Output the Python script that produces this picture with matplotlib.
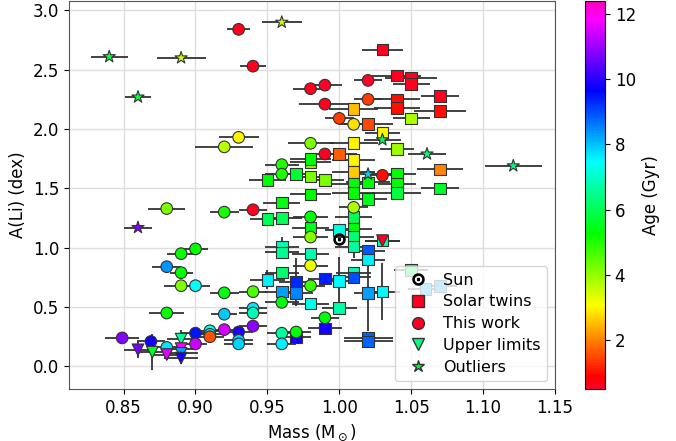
import numpy as np
import matplotlib
matplotlib.use('Agg')
import matplotlib.pyplot as plt
from matplotlib.lines import Line2D

# solar twins (squares)
tw_mass = [1.030, 1.040, 1.050, 1.050, 1.070, 1.040, 1.040, 1.070, 1.010, 1.050,
           1.020, 1.030, 1.010, 1.040, 1.000, 1.010, 0.980, 0.980, 1.070, 1.010,
           0.970, 0.980, 0.990, 1.020, 1.040, 1.040, 1.040, 1.010, 1.010, 1.070,
           0.980, 0.950, 1.020, 0.960, 0.950, 0.960, 0.980, 1.010, 1.010, 1.010,
           1.010, 1.000, 1.030, 1.020, 1.020, 0.960, 0.960, 0.960, 0.960, 0.950,
           0.970, 0.970, 0.980, 0.980, 0.990, 0.990, 1.000, 1.000, 1.010, 1.010,
           1.020, 1.020, 1.020, 1.030, 0.970, 1.050, 1.060, 1.070]
tw_ali = [2.67, 2.45, 2.43, 2.38, 2.28, 2.25, 2.18, 2.15, 2.17, 2.09,
          2.04, 1.97, 1.88, 1.83, 1.79, 1.74, 1.72, 1.75, 1.66, 1.64,
          1.62, 1.60, 1.57, 1.55, 1.62, 1.54, 1.46, 1.54, 1.46, 1.50,
          1.45, 1.57, 1.41, 1.38, 1.24, 1.25, 1.17, 1.26, 1.16, 1.09,
          1.01, 1.15, 1.06, 0.97, 0.90, 1.01, 0.96, 0.79, 0.63, 0.73,
          0.71, 0.62, 0.95, 0.53, 0.74, 0.32, 0.72, 0.49, 0.79, 0.75,
          0.62, 0.24, 0.21, 0.63, 0.25, 0.81, 0.65, 0.68]
tw_age = [0.6, 0.6, 0.6, 0.6, 0.6, 1.0, 1.0, 1.0, 2.5, 3.8,
          1.5, 3.0, 3.0, 3.9, 1.7, 3.0, 4.0, 5.3, 2.0, 2.6,
          5.7, 4.2, 4.2, 5.3, 5.3, 5.3, 5.8, 5.3, 5.3, 5.6,
          5.3, 5.3, 5.5, 5.4, 6.0, 6.0, 5.5, 6.0, 5.3, 6.3,
          6.6, 7.2, 6.8, 8.9, 7.6, 6.8, 6.5, 6.2, 8.3, 7.6,
          9.3, 8.5, 6.8, 7.3, 9.4, 9.8, 7.5, 6.7, 6.8, 9.0,
          8.3, 8.8, 8.8, 7.5, 9.8, 5.8, 8.2, 8.3]
tw_merr = [0.014, 0.017, 0.018, 0.013, 0.013, 0.016, 0.016, 0.018, 0.017, 0.013,
           0.017, 0.012, 0.017, 0.012, 0.012, 0.015, 0.014, 0.014, 0.016, 0.015,
           0.013, 0.014, 0.013, 0.015, 0.013, 0.013, 0.017, 0.015, 0.015, 0.013,
           0.014, 0.013, 0.013, 0.013, 0.012, 0.014, 0.013, 0.013, 0.013, 0.014,
           0.013, 0.010, 0.012, 0.012, 0.012, 0.012, 0.012, 0.012, 0.012, 0.012,
           0.012, 0.012, 0.013, 0.013, 0.012, 0.012, 0.012, 0.012, 0.012, 0.012,
           0.010, 0.017, 0.017, 0.012, 0.010, 0.012, 0.012, 0.012]
tw_aerr = [0.02, 0.02, 0.02, 0.02, 0.02, 0.02, 0.02, 0.02, 0.02, 0.02,
           0.02, 0.02, 0.02, 0.02, 0.02, 0.02, 0.02, 0.02, 0.03, 0.02,
           0.02, 0.02, 0.02, 0.03, 0.02, 0.02, 0.02, 0.02, 0.02, 0.03,
           0.02, 0.02, 0.02, 0.02, 0.02, 0.02, 0.08, 0.02, 0.03, 0.02,
           0.10, 0.04, 0.04, 0.04, 0.03, 0.08, 0.03, 0.03, 0.03, 0.08,
           0.20, 0.05, 0.03, 0.03, 0.02, 0.02, 0.20, 0.02, 0.04, 0.04,
           0.32, 0.02, 0.02, 0.24, 0.02, 0.02, 0.02, 0.02]

# this work (circles)
tw2_mass = [0.930, 0.940, 0.980, 0.990, 0.990, 1.020, 1.020, 1.000, 1.010, 0.930,
            0.920, 0.980, 0.990, 0.960, 0.960, 1.030, 0.940, 0.920, 0.880, 0.900,
            0.890, 0.880, 0.890, 0.890, 0.900, 0.880, 0.920, 0.940, 0.940, 0.940,
            0.920, 0.940, 0.920, 0.930, 0.930, 0.930, 0.900, 0.910, 0.910, 0.910,
            0.900, 0.849, 0.869, 0.880, 0.960, 0.960, 0.960, 0.970, 0.980, 0.980,
            0.980, 0.980, 0.990, 1.010]
tw2_ali = [2.84, 2.53, 2.34, 2.37, 2.21, 2.41, 2.25, 2.09, 2.04, 1.93,
           1.85, 1.88, 1.79, 1.70, 1.62, 1.61, 1.32, 1.30, 1.33, 0.99,
           0.95, 0.84, 0.79, 0.68, 0.68, 0.45, 0.62, 0.63, 0.49, 0.45,
           0.44, 0.34, 0.31, 0.29, 0.22, 0.19, 0.28, 0.30, 0.27, 0.25,
           0.19, 0.24, 0.21, 0.16, 0.54, 0.28, 0.19, 0.29, 1.26, 1.09,
           0.85, 0.68, 0.41, 1.34]
tw2_age = [0.6, 0.6, 0.6, 0.5, 0.6, 0.5, 1.4, 1.4, 2.8, 3.0,
           3.7, 4.2, 0.6, 5.0, 5.0, 1.0, 0.6, 5.1, 4.2, 5.2,
           5.2, 8.4, 5.3, 4.2, 7.4, 5.2, 5.4, 4.6, 7.7, 6.8,
           7.9, 10.9, 11.5, 9.9, 7.8, 7.8, 9.5, 7.3, 7.6, 1.6,
           11.4, 10.8, 9.8, 7.7, 5.3, 6.6, 7.6, 5.3, 5.3, 4.1,
           3.2, 4.8, 5.3, 3.8]
tw2_merr = [0.008, 0.009, 0.012, 0.012, 0.018, 0.010, 0.010, 0.010, 0.010, 0.014,
            0.020, 0.016, 0.010, 0.012, 0.012, 0.012, 0.010, 0.010, 0.013, 0.009,
            0.010, 0.010, 0.008, 0.012, 0.010, 0.012, 0.010, 0.010, 0.010, 0.010,
            0.009, 0.010, 0.010, 0.010, 0.010, 0.010, 0.010, 0.010, 0.010, 0.010,
            0.008, 0.012, 0.010, 0.010, 0.012, 0.010, 0.010, 0.010, 0.012, 0.012,
            0.012, 0.010, 0.010, 0.010]
tw2_aerr = [0.02, 0.02, 0.02, 0.02, 0.02, 0.02, 0.02, 0.02, 0.02, 0.02,
            0.02, 0.02, 0.02, 0.02, 0.02, 0.02, 0.02, 0.02, 0.02, 0.02,
            0.02, 0.02, 0.02, 0.02, 0.02, 0.03, 0.02, 0.02, 0.02, 0.02,
            0.02, 0.04, 0.02, 0.03, 0.02, 0.04, 0.04, 0.02, 0.02, 0.02,
            0.02, 0.03, 0.04, 0.02, 0.03, 0.02, 0.04, 0.02, 0.03, 0.02,
            0.02, 0.02, 0.02, 0.02]

# upper limits (down triangles)
ul_mass = [0.860, 0.870, 0.880, 0.890, 0.890, 0.890, 0.890, 1.030]
ul_ali = [0.14, 0.12, 0.10, 0.23, 0.15, 0.11, 0.07, 1.06]
ul_age = [10.7, 5.5, 11.6, 6.6, 11.8, 8.3, 9.8, 0.6]
ul_merr = [0.010, 0.010, 0.010, 0.010, 0.010, 0.012, 0.012, 0.012]
ul_aerr = [0.07, 0.15, 0.05, 0.08, 0.05, 0.05, 0.05, 0.03]

# outliers (stars)
out_mass = [0.840, 0.890, 0.860, 0.960, 1.030, 1.061, 1.121, 1.020, 0.860]
out_ali = [2.61, 2.60, 2.27, 2.90, 1.91, 1.79, 1.69, 1.62, 1.17]
out_age = [5.8, 3.6, 5.8, 3.6, 5.9, 6.2, 6.3, 7.9, 10.8]
out_merr = [0.013, 0.017, 0.009, 0.014, 0.013, 0.013, 0.020, 0.010, 0.010]

sun_mass, sun_ali = 1.0, 1.07

cmap = plt.get_cmap('gist_rainbow')
norm = matplotlib.colors.Normalize(vmin=0.5, vmax=12.4)

fig = plt.figure(figsize=(6.76, 4.41), dpi=100)
ax = fig.add_axes([0.102, 0.118, 0.719, 0.88])
cax = fig.add_axes([0.866, 0.118, 0.029, 0.88])

ebkw = dict(fmt='none', ecolor='#333333', elinewidth=1.3, capsize=0, zorder=2)
ax.errorbar(tw_mass, tw_ali, xerr=tw_merr, yerr=tw_aerr, **ebkw)
ax.errorbar(tw2_mass, tw2_ali, xerr=tw2_merr, yerr=tw2_aerr, **ebkw)
ax.errorbar(ul_mass, ul_ali, xerr=ul_merr, yerr=ul_aerr, **ebkw)
ax.errorbar(out_mass, out_ali, xerr=out_merr, **ebkw)

skw = dict(cmap=cmap, norm=norm, edgecolors='#333333', linewidths=0.8)
ax.scatter(tw_mass, tw_ali, c=tw_age, marker='s', s=70, zorder=3, **skw)
ax.scatter(tw2_mass, tw2_ali, c=tw2_age, marker='o', s=70, zorder=4, **skw)
ax.scatter(ul_mass, ul_ali, c=ul_age, marker='v', s=70, zorder=5, **skw)
ax.scatter(out_mass, out_ali, c=out_age, marker='*', s=85, zorder=6, **skw)
ax.plot(sun_mass, sun_ali, marker=r'$\odot$', color='k', ms=8, ls='none', zorder=7)

ax.set_xlim(0.812, 1.15)
ax.set_ylim(-0.19, 3.08)
ax.set_xticks(np.arange(0.85, 1.151, 0.05))
ax.set_yticks(np.arange(0.0, 3.01, 0.5))
ax.tick_params(labelsize=12)
ax.grid(True, color='#dddddd', lw=1)
ax.set_axisbelow(True)
ax.set_xlabel(r'Mass (M$_\odot$)', fontsize=12)
ax.set_ylabel('A(Li) (dex)', fontsize=12)
for sp in ax.spines.values():
    sp.set_color('#555555')

handles = [
    Line2D([], [], marker=r'$\odot$', color='k', ls='none', ms=8),
    Line2D([], [], marker='s', color='none', mfc=cmap(norm(0.6)), mec='#333333', ms=8.5),
    Line2D([], [], marker='o', color='none', mfc=cmap(norm(0.6)), mec='#333333', ms=8.5),
    Line2D([], [], marker='v', color='none', mfc=cmap(norm(6.4)), mec='#333333', ms=8.5),
    Line2D([], [], marker='*', color='none', mfc=cmap(norm(5.6)), mec='#333333', ms=9),
]
ax.legend(handles, ['Sun', 'Solar twins', 'This work', 'Upper limits', 'Outliers'],
          loc='lower right', fontsize=11.5, framealpha=0.8, handletextpad=0.6,
          borderpad=0.4, labelspacing=0.42)

sm = matplotlib.cm.ScalarMappable(cmap=cmap, norm=norm)
cb = fig.colorbar(sm, cax=cax, ticks=[2, 4, 6, 8, 10, 12])
cb.set_label('Age (Gyr)', fontsize=12)
cb.ax.tick_params(labelsize=12)

fig.savefig('out.png', dpi=100)
